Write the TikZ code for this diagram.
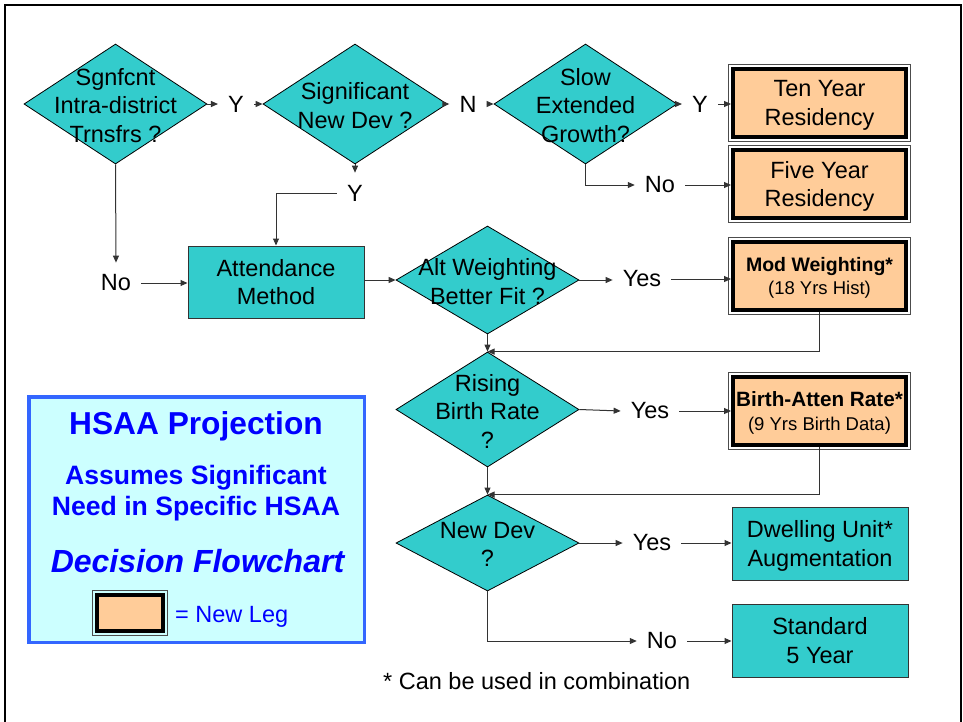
\documentclass[tikz,border=0pt]{standalone}
\usepackage{fontspec}
\setmainfont{Liberation Sans}
\usetikzlibrary{shapes.geometric,arrows.meta}
\definecolor{teal1}{HTML}{33CCCC}
\definecolor{peach}{HTML}{FFCC99}
\definecolor{legfill}{HTML}{CCFFFF}
\definecolor{legline}{HTML}{3366FF}
\definecolor{legtext}{HTML}{0000FF}
\newcommand\mfont{\fontsize{23.5}{28.5}\selectfont}
\newcommand\legframe[1]{\draw[thinframe] ([shift={(-2.3pt,2.3pt)}]#1.north west) rectangle ([shift={(2.3pt,-2.3pt)}]#1.south east);}
\begin{document}
\begin{tikzpicture}[x=1pt,y=-1pt,
 dia/.style={diamond, draw=black, line width=0.8pt, fill=teal1, inner sep=0pt},
 dtext/.style={align=center, font=\mfont, inner sep=0pt, yshift=-1.5pt},
 tbox/.style={rectangle, draw=black!80, line width=1pt, fill=teal1, align=center, font=\mfont, inner sep=0pt, text depth=0pt},
 nbox/.style={rectangle, draw=black, line width=4pt, fill=peach, align=center, inner sep=0pt, font=\mfont, text depth=0pt},
 lab/.style={font=\mfont, inner xsep=10pt, inner ysep=12pt},
 conn/.style={draw=black!80, line width=1pt, -{Triangle[length=7pt,width=6pt]}},
 thinframe/.style={draw=black!70, line width=0.9pt},
 legt/.style={text=legtext, inner sep=0pt}
]
\useasboundingbox (0,0) rectangle (963,721);
\clip (0,0) rectangle (963,721);
\draw[line width=2pt] (5,5) rectangle (961,745);

% diamonds
\node[dia, minimum width=183pt, minimum height=120pt, label={[dtext]center:{Sgnfcnt\\Intra-district\\Trnsfrs ?}}] (d1) at (115.5,104) {};
\node[dia, minimum width=184pt, minimum height=120pt, label={[dtext]center:{Significant\\New Dev ?}}] (d2) at (355,104) {};
\node[dia, minimum width=183pt, minimum height=120pt, label={[dtext]center:{Slow\\Extended\\Growth?}}] (d3) at (585.5,104) {};
\node[dia, minimum width=183pt, minimum height=108pt, label={[dtext]center:{Alt Weighting\\Better Fit ?}}] (d4) at (487.5,280) {};
\node[dia, minimum width=183pt, minimum height=115pt, label={[dtext]center:{Rising\\Birth Rate\\?}}] (d5) at (487.5,409.5) {};
\node[dia, minimum width=183pt, minimum height=96pt, label={[dtext]center:{New Dev\\?}}] (d6) at (487.5,543) {};

% boxes
\node[tbox, minimum width=176pt, minimum height=72pt] (att) at (276,282) {Attendance\\Method};
\node[tbox, minimum width=176pt, minimum height=73pt] (dwell) at (820,543.5) {Dwelling Unit*\\Augmentation};
\node[tbox, minimum width=176pt, minimum height=73pt] (std) at (820,640.5) {Standard\\5 Year};

\node[nbox, minimum width=173pt, minimum height=68pt] (ten) at (819.5,103) {Ten Year\\Residency};
\legframe{ten}
\node[nbox, minimum width=173pt, minimum height=68pt] (five) at (819.5,184) {Five Year\\Residency};
\legframe{five}
\node[nbox, minimum width=173pt, minimum height=68pt, font=\fontsize{18.5}{23.5}\selectfont] (mod) at (819.5,276) {{\bfseries\fontsize{19.5}{23.5}\selectfont Mod Weighting*}\\(18 Yrs Hist)};
\legframe{mod}
\node[nbox, minimum width=173pt, minimum height=68pt, font=\fontsize{18.5}{23.5}\selectfont] (birth) at (819.5,411) {{\bfseries\fontsize{20.7}{23.5}\selectfont Birth-Atten Rate*}\\(9 Yrs Birth Data)};
\legframe{birth}

% labels
\node[lab] (y1) at (236,104) {Y};
\node[lab] (n1) at (468,104) {N};
\node[lab] (y3) at (700,104) {Y};
\node[lab] (no1) at (660,185) {No};
\node[lab] (y2) at (355,193) {Y};
\node[lab] (no2) at (116,283) {No};
\node[lab] (yes1) at (642,279) {Yes};
\node[lab] (yes2) at (650,411) {Yes};
\node[lab] (yes3) at (652,543) {Yes};
\node[lab] (no3) at (662,641) {No};

% connectors
\draw[conn] (d1.east) -- (y1.west);
\draw[conn] (y1.east) -- (d2.west);
\draw[conn] (d2.east) -- (n1.west);
\draw[conn] (n1.east) -- (d3.west);
\draw[conn] (d3.east) -- (y3.west);
\draw[conn] (y3.east) -- (y3.east -| ten.west);
\draw[conn] (d3.south) |- (no1.west);
\draw[conn] (no1.east) -- (no1.east -| five.west);
\draw[conn] (d2.south) -- (y2.north);
\draw[conn] (y2.west) -| (att.north);
\draw[conn] (d1.south) -- (no2.north);
\draw[conn] (no2.east) -- (no2.east -| att.west);
\draw[conn] (att.east |- d4.west) -- (d4.west);
\draw[conn] (d4.east) -- (d4.east -| yes1.west);
\draw[conn] (yes1.east) -- (yes1.east -| mod.west);
\draw[conn] (mod.south) |- (d5.north);
\draw[conn] (d4.south) -- (d5.north);
\draw[conn] (d5.east) -- (yes2.west);
\draw[conn] (yes2.east) -- (yes2.east -| birth.west);
\draw[conn] (birth.south) |- (d6.north);
\draw[conn] (d5.south) -- (d6.north);
\draw[conn] (d6.east) -- (yes3.west);
\draw[conn] (yes3.east) -- (yes3.east -| dwell.west);
\draw[conn] (d6.south) |- (no3.west);
\draw[conn] (no3.east) -- (no3.east -| std.west);

% legend
\node[draw=legline, line width=3.5pt, fill=legfill, minimum width=335.5pt, minimum height=245.5pt, inner sep=0pt] (leg) at (196.5,519.5) {};
\node[legt, font=\bfseries\fontsize{31.7}{36}\selectfont, anchor=base] (lt1) at (196,434) {HSAA Projection};
\node[legt, font=\bfseries\fontsize{26.6}{31}\selectfont, anchor=base] (lt2) at (196,484) {Assumes Significant};
\node[legt, font=\bfseries\fontsize{26.6}{31}\selectfont, anchor=base] (lt3) at (196,515) {Need in Specific HSAA};
\node[legt, font=\bfseries\itshape\fontsize{32}{36}\selectfont, anchor=base] (lt4) at (197.5,572) {Decision Flowchart};
\node[nbox, minimum width=66pt, minimum height=36pt] (lkey) at (130,613) {};
\legframe{lkey}
\node[legt, font=\mfont, anchor=base west] (lk) at (175,622) {= New Leg};

\node[font=\mfont, anchor=base west, inner sep=0pt] (fn) at (383,689) {* Can be used in combination};
\end{tikzpicture}
\end{document}
